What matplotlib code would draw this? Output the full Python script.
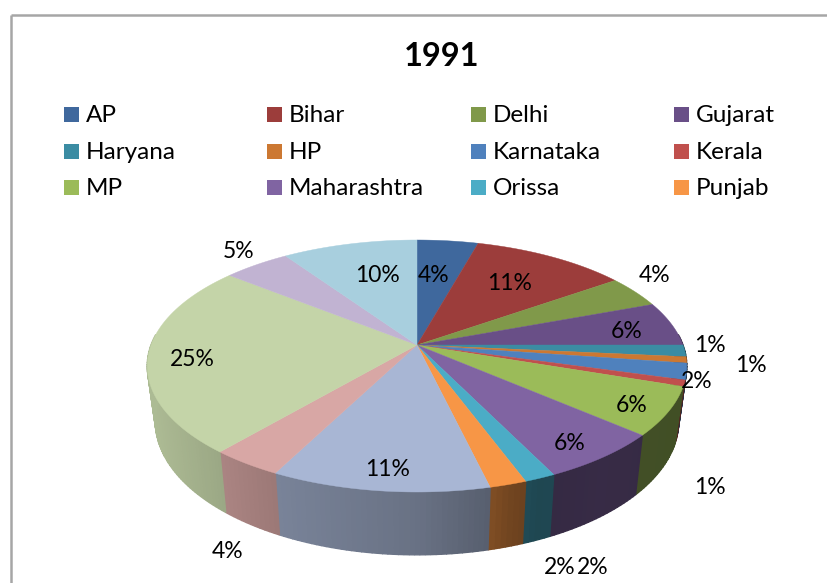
#!/usr/bin/env python3
"""Tilted 3D-looking pie for 1991, drawn in pixel coordinates."""
import numpy as np
import matplotlib
matplotlib.use("Agg")
import matplotlib.pyplot as plt
from matplotlib.patches import Rectangle

# Data (share in %)
names = ["AP", "Bihar", "Delhi", "Gujarat", "Haryana", "HP", "Karnataka", "Kerala",
         "MP", "Maharashtra", "Orissa", "Punjab"]
shares = [4.3, 10.9, 4.1, 5.7, 1.5, 0.8, 2.1, 0.8, 6.2, 6.4, 1.6, 1.9,
          11.2, 3.7, 24.6, 4.7, 9.5]
labels = ["4%", "11%", "4%", "6%", "1%", "1%", "2%", "1%", "6%", "6%", "2%", "2%",
          "11%", "4%", "25%", "5%", "10%"]
colors = ["#3f689d", "#9c3d3b", "#80994a", "#694f87", "#3b8ca3", "#cc7832",
          "#4f81bd", "#c0504d", "#9bbb59", "#8064a2", "#4bacc6", "#f79646",
          "#a8b6d4", "#d8a7a5", "#c4d4a8", "#c1b3d2", "#a8cfde"]

# label centres, pixels
label_xy = [(434, 275), (510, 283), (655, 276), (627, 332), (710, 345), (751, 366),
            (697, 382), (710, 488), (632, 406), (570, 444), (593, 568), (560, 568),
            (388, 470), (228, 552), (192, 359), (239, 251), (377, 275)]

# perspective of the top face
CX, CY = 417, 345
A, B, K = 122.5, 266, 1 / 6

# wall darkening along x
shade_x = [150, 220, 275, 420, 490, 510, 540, 600, 680]
shade_f = [0.88, 0.79, 0.72, 0.62, 0.52, 0.46, 0.41, 0.43, 0.42]


def rim(theta):
    # theta clockwise from the top, radians
    X, Y = np.sin(theta), np.cos(theta)
    d = 1 + K * Y
    return CX + B * X / d, CY - A * Y / d


def rim_low(theta):
    x, y = rim(theta)
    return CX + 0.97 * (x - CX), y + 54 + 0.06 * (y - CY)


plt.rcParams["font.family"] = ["Lato", "DejaVu Sans"]
fig = plt.figure(figsize=(8.28, 5.83), dpi=100)
ax = fig.add_axes([0, 0, 1, 1])
ax.set_xlim(0, 828)
ax.set_ylim(583, 0)
ax.axis("off")

# frame, only top and left are in the picture
ax.plot([11.5, 11.5], [583, 14.5], color="#a6a6a6", lw=1.8, solid_capstyle="butt")
ax.plot([10.6, 828], [14.5, 14.5], color="#a6a6a6", lw=1.8, solid_capstyle="butt")

ax.text(441.5, 57, "1991", fontsize=23.5, fontweight="bold", ha="center", va="center",
        color="#000000")

# legend
col_x = [64, 267, 471, 674]
row_y = [114, 151, 187]
for i, name in enumerate(names):
    x = col_x[i % 4]
    y = row_y[i // 4]
    ax.add_patch(Rectangle((x, y - 7.5), 15, 15, color=colors[i], lw=0))
    ax.text(x + 22, y + 1.5, name, fontsize=17.5, va="center", ha="left", color="#000000")

fractions = np.cumsum([0] + shares) / sum(shares) * 2 * np.pi

# side wall, strips drawn without antialiasing so no seams show between them
for i, color in enumerate(colors):
    lo, hi = max(fractions[i], np.radians(85)), min(fractions[i + 1], np.radians(275))
    if hi <= lo:
        continue
    n = max(2, int((hi - lo) * 60))
    th = np.linspace(lo, hi, n)
    base = np.array(matplotlib.colors.to_rgb(color))
    for t0, t1 in zip(th[:-1], th[1:]):
        x0, y0 = rim(t0)
        x1, y1 = rim(t1)
        x2, y2 = rim_low(t1)
        x3, y3 = rim_low(t0)
        c = base * np.interp((x0 + x1) / 2, shade_x, shade_f)
        ax.fill([x0, x1, x2, x3], [y0, y1, y2, y3], color=c, lw=1.0, zorder=2)

# top face
for i, color in enumerate(colors):
    th = np.linspace(fractions[i], fractions[i + 1], 60)
    x, y = rim(th)
    ax.fill(np.r_[CX, x], np.r_[CY, y], color=color, lw=0.3, zorder=3)

for text, (x, y) in zip(labels, label_xy):
    ax.text(x, y, text, fontsize=16.5, ha="center", va="center", color="#000000", zorder=4)

fig.savefig("out.png", dpi=100)
